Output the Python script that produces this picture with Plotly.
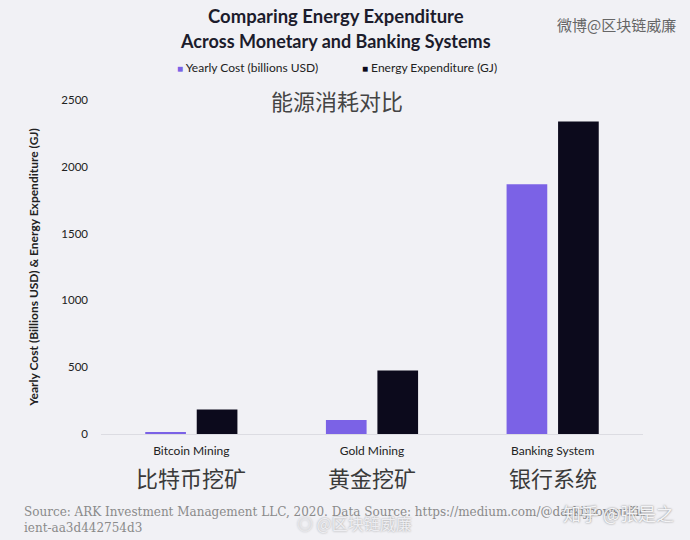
import plotly.graph_objects as go

categories = ["Bitcoin Mining", "Gold Mining", "Banking System"]
categories_cn = ["比特币挖矿", "黄金挖矿", "银行系统"]
yearly_cost = [12, 105, 1870]
energy_expenditure = [184, 475, 2340]
y_ticks = [0, 500, 1000, 1500, 2000, 2500]

PURPLE = "#7b62e6"
DARK = "#0c0a1c"
BG = "#f1f1f5"

W, H = 690, 540
L, R, T, B = 101, 47, 100, 106
PW, PH = W - L - R, H - T - B


def px(x):
    return (x - L) / PW


def py(y):
    return (H - B - y) / PH


fig = go.Figure()
fig.add_trace(go.Bar(x=categories, y=yearly_cost, name="Yearly Cost (billions USD)",
                     marker=dict(color=PURPLE, line=dict(width=0))))
fig.add_trace(go.Bar(x=categories, y=energy_expenditure, name="Energy Expenditure (GJ)",
                     marker=dict(color=DARK, line=dict(width=0))))

fig.update_layout(
    width=W, height=H,
    paper_bgcolor=BG, plot_bgcolor=BG,
    margin=dict(l=L, r=R, t=T, b=B),
    barmode="group", bargap=0.43, bargroupgap=0.21,
    showlegend=False,
    font=dict(family="Lato, sans-serif", color="#222"),
    xaxis=dict(showgrid=False, showline=False, zeroline=False, ticks="",
               tickfont=dict(size=12, color="#222", family="Lato"),
               ticklabelstandoff=8),
    yaxis=dict(range=[0, 2500], tickvals=y_ticks, showgrid=False,
               zeroline=True, zerolinecolor="#dcdce2", zerolinewidth=1,
               showline=False, ticks="", ticklabelstandoff=12,
               tickfont=dict(size=11.5, color="#222", family="Lato"),
               title=dict(text="<b>Yearly Cost (Billions USD) & Energy Expenditure (GJ)</b>",
                          font=dict(size=12, color="#222", family="Lato"), standoff=20)),
)

ann = []


def add(text, x, y, size, color, family="Lato", xanchor="center", **kw):
    ann.append(dict(text=text, x=px(x), y=py(y), xref="paper", yref="paper",
                    xanchor=xanchor, yanchor="middle", showarrow=False,
                    font=dict(size=size, color=color, family=family, **kw.pop("fontkw", {})), **kw))


add("<b>Comparing Energy Expenditure</b>", 336, 16, 18.5, "#1c1c2c")
add("<b>Across Monetary and Banking Systems</b>", 335, 41, 18, "#1c1c2c")
add(f"<span style='color:{PURPLE};font-size:10px'>■</span> Yearly Cost (billions USD)",
    175, 68, 12, "#222", xanchor="left")
add(f"<span style='color:{DARK};font-size:10px'>■</span> Energy Expenditure (GJ)",
    360, 68, 12, "#222", xanchor="left")
add("微博@区块链威廉", 616, 24, 15, "#666", family="Noto Sans CJK SC")
add("能源消耗对比", 337, 100, 22, "#444", family="Noto Sans CJK SC")
for c, cn in zip(categories, categories_cn):
    ann.append(dict(text=cn, x=c, xref="x", y=py(477), yref="paper",
                    xanchor="center", yanchor="middle", showarrow=False,
                    font=dict(size=22, color="#3a3a3a", family="Noto Sans CJK SC")))
add("Source: ARK Investment Management LLC, 2020. Data Source: https://medium.com/@darkijpowsuffic<br>ient-aa3d442754d3",
    22, 520, 12, "#8a8a8a", family="DejaVu Serif", xanchor="left", align="left")
add("知乎 @张是之", 618, 513, 18, "#f4f4f6", family="Noto Sans CJK SC",
    fontkw=dict(shadow="0px 0px 2px #777"))
add("◎ @区块链威廉", 354, 523, 16, "#eeeef2", family="Noto Sans CJK SC",
    fontkw=dict(shadow="0px 0px 2px #999"))
fig.update_layout(annotations=ann)

fig.write_html("out.html", config={"displayModeBar": False},
               post_script="document.body.style.margin='0';")
